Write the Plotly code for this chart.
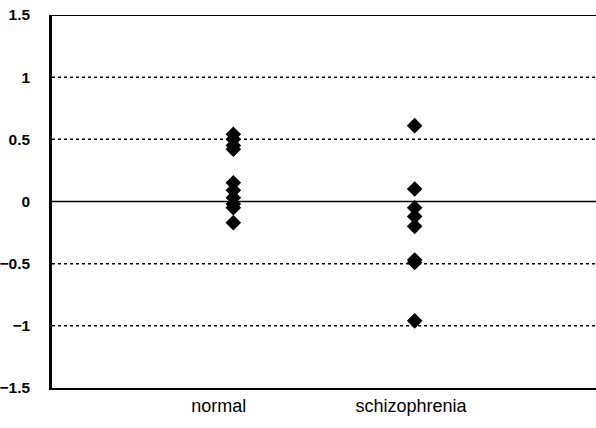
import plotly.graph_objects as go

categories = ["normal", "schizophrenia"]
normal_values = [0.54, 0.50, 0.45, 0.42, 0.15, 0.09, 0.03, -0.02, -0.05, -0.17]
schizo_values = [0.61, 0.10, -0.05, -0.12, -0.20, -0.47, -0.49, -0.96]
y_ticks = [-1.5, -1, -0.5, 0, 0.5, 1, 1.5]
y_tick_labels = ["\u22121.5", "\u22121", "\u22120.5", "0", "0.5", "1", "1.5"]
grid_levels = [1, 0.5, -0.5, -1]

fig = go.Figure()
fig.add_trace(go.Scatter(
    x=[1] * len(normal_values), y=normal_values, mode="markers",
    marker=dict(symbol="diamond", size=12, color="black"), showlegend=False))
fig.add_trace(go.Scatter(
    x=[2] * len(schizo_values), y=schizo_values, mode="markers",
    marker=dict(symbol="diamond", size=12, color="black"), showlegend=False))

for g in grid_levels:
    fig.add_hline(y=g, line=dict(color="black", width=1.5, dash="3px,3px"))
fig.add_hline(y=0, line=dict(color="black", width=1.5))
fig.add_hline(y=1.5, line=dict(color="black", width=2))

fig.update_layout(
    width=596, height=428,
    margin=dict(l=52, r=0, t=15, b=40),
    plot_bgcolor="white", paper_bgcolor="white",
    font=dict(family="Arial, Liberation Sans", color="black"),
    xaxis=dict(range=[0, 3], tickvals=[0.92, 1.98], ticktext=categories,
               showgrid=False, zeroline=False, showline=True, linecolor="black",
               linewidth=2, ticks="", tickfont=dict(size=18), automargin=False),
    yaxis=dict(range=[-1.5, 1.5], tickvals=y_ticks, ticktext=y_tick_labels,
               showgrid=False, zeroline=False, showline=True, linecolor="black",
               linewidth=2.5, ticks="", ticklabelstandoff=16, automargin=False,
               tickfont=dict(size=15.5, family="Arial, Liberation Sans", weight="bold")),
)

fig.write_html("out.html", config={"displayModeBar": False},
               post_script="document.body.style.margin='0';document.body.style.overflow='hidden';")
